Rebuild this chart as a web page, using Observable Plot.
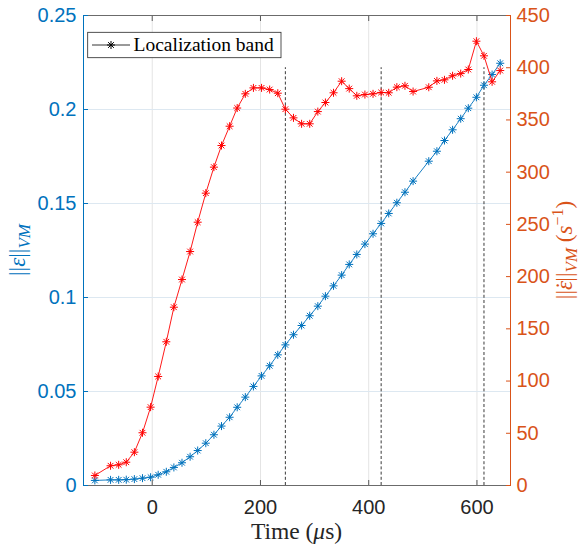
<!DOCTYPE html>
<html><head><meta charset="utf-8">
<script src="https://cdn.jsdelivr.net/npm/d3@7"></script>
<script src="https://cdn.jsdelivr.net/npm/@observablehq/plot@0.6"></script>
<style>body{margin:0;background:#fff} svg{display:block}</style>
</head><body><div id="chart"></div>
<script>
// Time (µs) of each sample
const time = [-106, -77, -62, -48, -33, -18, -3, 11, 26, 40, 55, 70, 84, 99, 114, 128, 143, 157, 172, 187, 202, 217, 232, 246, 261, 276, 291, 306, 320, 335, 350, 364, 378, 393, 408, 423, 437, 452, 467, 482, 511, 526, 540, 555, 570, 584, 599, 613, 628, 643];
// ||eps||_VM (left axis)
const strain = [0.0027, 0.0030, 0.0030, 0.0031, 0.0034, 0.0039, 0.0044, 0.0057, 0.0073, 0.0096, 0.0121, 0.0153, 0.0186, 0.0225, 0.0270, 0.0316, 0.0363, 0.0416, 0.0470, 0.0527, 0.0583, 0.0637, 0.0695, 0.0748, 0.0802, 0.0851, 0.0903, 0.0954, 0.1007, 0.1062, 0.1119, 0.1176, 0.1229, 0.1284, 0.1339, 0.1394, 0.1447, 0.1504, 0.1560, 0.1619, 0.1725, 0.1778, 0.1835, 0.1892, 0.1951, 0.2007, 0.2065, 0.2129, 0.2186, 0.2246];
// ||eps_dot||_VM in 1/s (right axis)
const strainRate = [9.6, 18.9, 19.8, 22.3, 31.9, 50.5, 75, 104.4, 137.6, 170.7, 197.2, 224, 252.1, 279.9, 304.8, 325.5, 344, 361.4, 375, 380.7, 380.7, 379.1, 375.6, 360.3, 352, 346.3, 346.3, 358, 366.7, 376, 387.1, 380, 373.1, 374.3, 375, 376.3, 376, 381.4, 382.7, 377.2, 381.3, 387.4, 388.4, 392.3, 394.4, 398.3, 425.4, 411.4, 386.5, 397.3];
// Localization band markers (µs) and their height on the right axis
const bandTimes = [246, 423, 613];
const bandTop = 400;

const xTicks = [0, 200, 400, 600];
const leftTicks = [0, 0.05, 0.1, 0.15, 0.2, 0.25];
const leftLabels = ["0", "0.05", "0.1", "0.15", "0.2", "0.25"];
const rightTicks = [0, 50, 100, 150, 200, 250, 300, 350, 400, 450];
const xDomain = [-127, 662];
const leftDomain = [0, 0.25];
const rightDomain = [0, 450];

const toLeft = v => leftDomain[0] + (v - rightDomain[0]) * (leftDomain[1] - leftDomain[0]) / (rightDomain[1] - rightDomain[0]);
const fromLeft = v => rightDomain[0] + (v - leftDomain[0]) * (rightDomain[1] - rightDomain[0]) / (leftDomain[1] - leftDomain[0]);
const rows = time.map((t, i) => ({t, strain: strain[i], rate: strainRate[i]}));

const BLUE = "#0072BD", ORANGE = "#D95319", RED = "#FF0000", DARK = "#262626";
const markerR = 2.7;

const plot = Plot.plot({
  width: 580, height: 547,
  marginLeft: 83, marginRight: 70, marginTop: 15, marginBottom: 62,
  style: {fontFamily: "'Liberation Sans', Arial, sans-serif", fontSize: "20px", background: "#fff", overflow: "visible"},
  x: {domain: xDomain, label: null},
  y: {domain: leftDomain, label: null},
  marks: [
    Plot.gridX(xTicks, {stroke: "#e4e4e4", strokeOpacity: 1}),
    Plot.gridY(leftTicks.filter(d => d > leftDomain[0] && d < leftDomain[1]), {stroke: "#dde8f1", strokeOpacity: 1}),
    // box
    Plot.ruleY([leftDomain[0]], {stroke: "#5a5a5a", strokeWidth: 0.9}),
    Plot.ruleY([leftDomain[1]], {stroke: "#5a5a5a", strokeWidth: 0.9}),
    Plot.ruleX([xDomain[0]], {stroke: BLUE, strokeWidth: 1}),
    Plot.ruleX([xDomain[1]], {stroke: ORANGE, strokeWidth: 1}),
    // x axis
    Plot.axisX(xTicks, {anchor: "bottom", tickSize: 0, tickPadding: 14, fill: DARK, label: null, tickFormat: d => String(d)}),
    Plot.axisX(xTicks, {anchor: "bottom", tickSize: -5, stroke: "#5a5a5a", label: null, tickFormat: () => ""}),
    Plot.axisX(xTicks, {anchor: "top", tickSize: -5, stroke: "#5a5a5a", label: null, tickFormat: () => ""}),
    // left axis
    Plot.axisY(leftTicks, {anchor: "left", tickSize: 0, tickPadding: 7, fill: BLUE, label: null, tickFormat: d => leftLabels[leftTicks.indexOf(d)]}),
    Plot.axisY(leftTicks, {anchor: "left", tickSize: -5, stroke: BLUE, label: null, tickFormat: () => ""}),
    // right axis
    Plot.axisY(rightTicks.map(toLeft), {anchor: "right", tickSize: 0, tickPadding: 6, fill: ORANGE, label: null, tickFormat: d => String(Math.round(fromLeft(d)))}),
    Plot.axisY(rightTicks.map(toLeft), {anchor: "right", tickSize: -5, stroke: ORANGE, label: null, tickFormat: () => ""}),
    // localization band
    Plot.ruleX(bandTimes, {y1: toLeft(rightDomain[0]), y2: toLeft(bandTop), stroke: "#3a3a3a", strokeWidth: 1, strokeDasharray: "3,2.2"}),
    // strain (left)
    Plot.line(rows, {x: "t", y: "strain", stroke: BLUE, strokeWidth: 0.9}),
    Plot.dot(rows, {x: "t", y: "strain", symbol: "plus", r: markerR, stroke: BLUE, strokeWidth: 1}),
    Plot.dot(rows, {x: "t", y: "strain", symbol: "times", r: markerR, stroke: BLUE, strokeWidth: 1}),
    // strain rate (right)
    Plot.line(rows, {x: "t", y: d => toLeft(d.rate), stroke: RED, strokeWidth: 0.9}),
    Plot.dot(rows, {x: "t", y: d => toLeft(d.rate), symbol: "plus", r: markerR, stroke: RED, strokeWidth: 1}),
    Plot.dot(rows, {x: "t", y: d => toLeft(d.rate), symbol: "times", r: markerR, stroke: RED, strokeWidth: 1})
  ]
});

document.getElementById("chart").appendChild(plot);

const svg = d3.select(plot);
const serif = "'Liberation Serif', 'Times New Roman', serif";

// x label
const xl = svg.append("text").attr("x", 296.5).attr("y", 538.5).attr("text-anchor", "middle")
  .style("font-family", serif).style("font-size", "23.5px").attr("fill", DARK);
xl.append("tspan").text("Time (");
xl.append("tspan").style("font-style", "italic").text("μ");
xl.append("tspan").text("s)");

// left y label
const yl = svg.append("text").attr("transform", "translate(25,250) rotate(-90)").attr("text-anchor", "middle")
  .style("font-family", serif).style("font-size", "23px").attr("fill", BLUE);
yl.append("tspan").text("||");
yl.append("tspan").style("font-style", "italic").text("ε");
yl.append("tspan").text("||");
yl.append("tspan").style("font-style", "italic").style("font-size", "17px").attr("dy", 5).text("VM");

// right y label
const yr = svg.append("text").attr("transform", "translate(572,250) rotate(-90)").attr("text-anchor", "middle")
  .style("font-family", serif).style("font-size", "23px").attr("fill", ORANGE);
yr.append("tspan").text("||");
yr.append("tspan").style("font-style", "italic").text("ε");
yr.append("tspan").attr("dx", -8.5).text("˙");
yr.append("tspan").text("||");
yr.append("tspan").style("font-style", "italic").style("font-size", "17px").attr("dy", 5).text("VM");
yr.append("tspan").attr("dy", -5).text(" (");
yr.append("tspan").style("font-style", "italic").text("s");
yr.append("tspan").style("font-size", "16px").attr("dy", -9).text("−1");
yr.append("tspan").attr("dy", 9).text(")");

// legend
const lg = svg.append("g");
lg.append("rect").attr("x", 87.7).attr("y", 32.3).attr("width", 193.3).attr("height", 25.4)
  .attr("fill", "#fff").attr("stroke", DARK).attr("stroke-width", 0.8);
lg.append("line").attr("x1", 92).attr("x2", 130).attr("y1", 45).attr("y2", 45).attr("stroke", "#000").attr("stroke-width", 0.8);
lg.append("path").attr("transform", "translate(111,45)").attr("d", d3.symbol(d3.symbolPlus, markerR * markerR * Math.PI)()).attr("stroke", "#000").attr("fill", "none");
lg.append("path").attr("transform", "translate(111,45)").attr("d", d3.symbol(d3.symbolTimes, markerR * markerR * Math.PI)()).attr("stroke", "#000").attr("fill", "none");
lg.append("text").attr("x", 133.5).attr("y", 50.5).attr("text-anchor", "start")
  .style("font-family", serif).style("font-size", "19.5px").attr("fill", "#000").text("Localization band");
</script>
</body></html>
